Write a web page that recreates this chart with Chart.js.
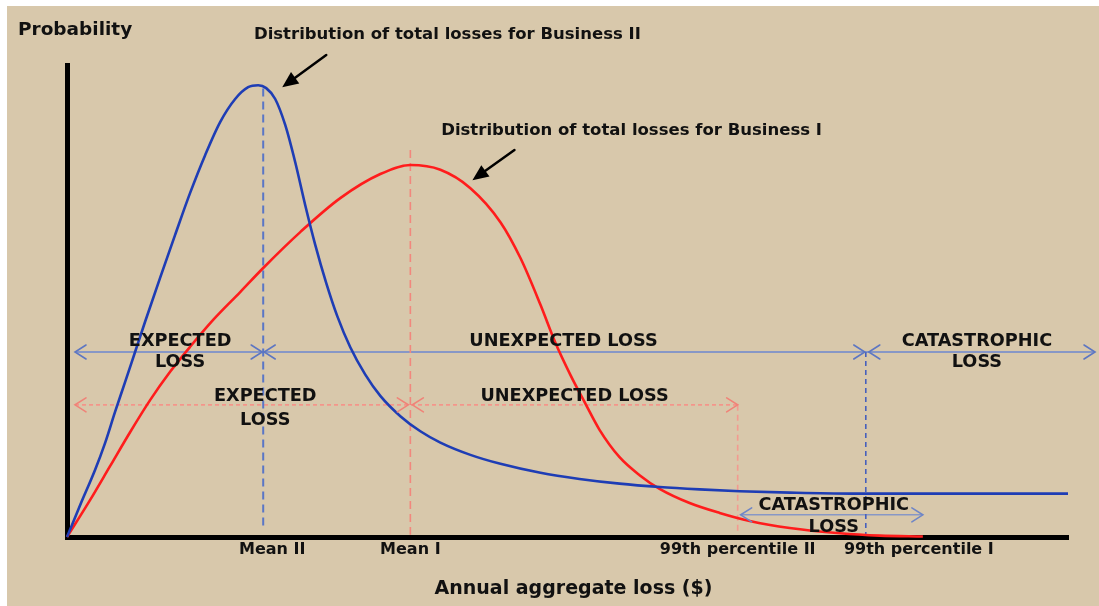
<!DOCTYPE html>
<html><head><meta charset="utf-8">
<script src="https://cdn.jsdelivr.net/npm/chart.js@4.4.1/dist/chart.umd.min.js"></script>
<style>html,body{margin:0;padding:0;background:#fff;}canvas{display:block;}</style>
</head><body>
<canvas id="c" width="1099" height="606"></canvas>
<script>
// ---- data (arbitrary units: annual aggregate loss 0..100, probability 0..100) ----
const lossII = [0.0, 1.4, 2.8, 3.8, 4.8, 5.8, 6.8, 7.8, 9.3, 10.8, 12.3, 13.8, 15.3, 16.8, 18.1, 19.1, 19.9, 20.8, 21.8, 22.8, 23.8, 24.8, 25.9, 27.0, 28.3, 29.8, 31.3, 33.3, 35.3, 37.3, 40.3, 43.3, 47.3, 51.2, 55.2, 59.2, 63.2, 67.2, 72.2, 78.2, 100.0];
const probII = [0.0, 7.2, 14.2, 19.9, 26.5, 32.8, 39.2, 45.6, 54.9, 64.0, 72.9, 80.9, 87.9, 92.8, 95.3, 95.7, 95.1, 92.8, 87.3, 79.4, 70.3, 61.9, 53.8, 46.8, 40.2, 34.4, 29.9, 25.6, 22.4, 20.0, 17.4, 15.5, 13.6, 12.3, 11.3, 10.6, 10.1, 9.7, 9.4, 9.2, 9.2];
const lossI = [0.0, 2.3, 4.3, 6.3, 8.3, 10.3, 12.3, 14.6, 17.3, 19.6, 23.3, 27.3, 31.3, 34.3, 37.3, 40.3, 43.3, 45.3, 47.3, 48.8, 50.3, 51.8, 53.2, 55.2, 57.2, 59.2, 62.2, 65.2, 68.2, 72.2, 77.2, 81.2, 85.5];
const probI = [0.0, 7.8, 15.0, 22.2, 29.0, 35.0, 40.3, 46.0, 51.9, 57.0, 64.6, 71.8, 76.9, 78.8, 77.8, 73.9, 66.7, 59.1, 49.2, 41.1, 34.3, 28.2, 22.7, 16.9, 13.1, 10.2, 7.2, 5.1, 3.4, 1.9, 0.8, 0.3, 0.1];
const markerNames = ['Mean II', 'Mean I', '99th percentile II', '99th percentile I'];
const markerValues = [19.6, 34.3, 67.0, 79.8];
const tickLabelValues = [20.5, 34.3, 67.0, 85.1];
const lossBandLevels = [39.2, 28.0, 4.7]; // Business II bands, Business I bands, catastrophic band
// -------------------------------------------------------------------------------

const FONT = '"DejaVu Sans", Verdana, sans-serif';
const pts = (xs, ys) => xs.map((x, i) => ({x, y: ys[i]}));
const seg = (x1, y1, x2, y2) => [{x: x1, y: y1}, {x: x2, y: y2}];

const [meanII, meanI, p99II, p99I] = markerValues;
const [bandII, bandI, bandCat] = lossBandLevels;

const bgPlugin = {
  id: 'bg',
  beforeDraw(chart) {
    const c = chart.ctx;
    c.save();
    c.fillStyle = '#ffffff';
    c.fillRect(0, 0, chart.width, chart.height);
    c.fillStyle = '#d8c8ab';
    c.fillRect(7, 6, chart.width - 7, chart.height - 6);
    c.restore();
  }
};

const heads = [
  {x: 0.8, y: bandII, d: -1, c: '#5d76c2'}, {x: meanII - 0.1, y: bandII, d: 1, c: '#5d76c2'},
  {x: meanII + 0.1, y: bandII, d: -1, c: '#5d76c2'}, {x: p99I - 0.1, y: bandII, d: 1, c: '#5d76c2'},
  {x: p99I + 0.3, y: bandII, d: -1, c: '#5d76c2'}, {x: 102.7, y: bandII, d: 1, c: '#5d76c2'},
  {x: 0.8, y: bandI, d: -1, c: '#f08378'}, {x: meanI - 0.2, y: bandI, d: 1, c: '#f08378'},
  {x: meanI + 0.2, y: bandI, d: -1, c: '#f08378'}, {x: p99II, y: bandI, d: 1, c: '#f08378'},
  {x: p99II + 0.3, y: bandCat, d: -1, c: '#6f86c6'}, {x: 85.5, y: bandCat, d: 1, c: '#6f86c6'}
];
const pointers = [
  {x1: 25.9, y1: 102.1, x2: 21.5, y2: 95.3},
  {x1: 44.7, y1: 82.0, x2: 40.5, y2: 75.6}
];
const CAPS = 'bold 17.7px ' + FONT;
const texts = [
  {t: 'Probability', x: -4.9, y: 107.4, a: 'left', f: 'bold 18.5px ' + FONT},
  {t: 'Distribution of total losses for Business II', x: 38.0, y: 106.4, a: 'center', f: 'bold 16.5px ' + FONT},
  {t: 'Distribution of total losses for Business I', x: 56.4, y: 86.0, a: 'center', f: 'bold 16.5px ' + FONT},
  {t: 'EXPECTED', x: 11.3, y: 41.5, a: 'center', f: CAPS},
  {t: 'LOSS', x: 11.3, y: 36.9, a: 'center', f: CAPS},
  {t: 'UNEXPECTED LOSS', x: 49.6, y: 41.5, a: 'center', f: CAPS},
  {t: 'CATASTROPHIC', x: 90.9, y: 41.5, a: 'center', f: CAPS},
  {t: 'LOSS', x: 90.9, y: 36.9, a: 'center', f: CAPS},
  {t: 'EXPECTED', x: 19.8, y: 29.7, a: 'center', f: CAPS},
  {t: 'LOSS', x: 19.8, y: 24.8, a: 'center', f: CAPS},
  {t: 'UNEXPECTED LOSS', x: 50.7, y: 29.7, a: 'center', f: CAPS},
  {t: 'CATASTROPHIC', x: 76.6, y: 6.8, a: 'center', f: CAPS},
  {t: 'LOSS', x: 76.6, y: 2.1, a: 'center', f: CAPS},
  {t: 'Annual aggregate loss ($)', x: 50.6, y: -11.0, a: 'center', f: 'bold 19px ' + FONT}
];

const annotPlugin = {
  id: 'annot',
  afterDatasetsDraw(chart) {
    const c = chart.ctx, xs = chart.scales.x, ys = chart.scales.y;
    c.save();
    c.lineCap = 'round';
    heads.forEach(h => {
      const px = xs.getPixelForValue(h.x), py = ys.getPixelForValue(h.y);
      c.strokeStyle = h.c; c.lineWidth = 1.6;
      c.beginPath();
      c.moveTo(px - h.d * 11, py - 7);
      c.lineTo(px, py);
      c.lineTo(px - h.d * 11, py + 7);
      c.stroke();
    });
    pointers.forEach(p => {
      const x1 = xs.getPixelForValue(p.x1), y1 = ys.getPixelForValue(p.y1);
      const x2 = xs.getPixelForValue(p.x2), y2 = ys.getPixelForValue(p.y2);
      const ang = Math.atan2(y2 - y1, x2 - x1), L = 16, W = 7;
      const bx = x2 - L * Math.cos(ang), by = y2 - L * Math.sin(ang);
      c.strokeStyle = '#000'; c.lineWidth = 2.5;
      c.beginPath(); c.moveTo(x1, y1); c.lineTo(bx, by); c.stroke();
      c.fillStyle = '#000';
      c.beginPath();
      c.moveTo(x2, y2);
      c.lineTo(bx + W * Math.sin(ang), by - W * Math.cos(ang));
      c.lineTo(bx - W * Math.sin(ang), by + W * Math.cos(ang));
      c.closePath(); c.fill();
    });
    c.restore();
  },
  afterDraw(chart) {
    const c = chart.ctx, xs = chart.scales.x, ys = chart.scales.y;
    c.save();
    c.fillStyle = '#111';
    c.textBaseline = 'middle';
    texts.forEach(t => {
      c.font = t.f; c.textAlign = t.a;
      c.fillText(t.t, xs.getPixelForValue(t.x), ys.getPixelForValue(t.y));
    });
    c.restore();
  }
};

const lineDs = (data, color, width, dash, extra) => Object.assign({
  data, borderColor: color, borderWidth: width, borderDash: dash || [],
  pointRadius: 0, fill: false, clip: false, tension: 0
}, extra || {});

new Chart(document.getElementById('c'), {
  type: 'line',
  data: {
    datasets: [
      lineDs(pts(lossII, probII), '#1e3db5', 2.6, null, {cubicInterpolationMode: 'monotone'}),
      lineDs(pts(lossI, probI), '#ff1c1c', 2.6, null, {cubicInterpolationMode: 'monotone'}),
      lineDs(seg(meanII, 95.0, meanII, 1.5), '#5a76c6', 2, [8, 5]),
      lineDs(seg(meanI, 82.0, meanI, 0.5), '#f2877d', 1.6, [8, 5]),
      lineDs(seg(p99II, bandI, p99II, 0.5), '#f39a90', 1.6, [6, 4]),
      lineDs(seg(p99I, bandII, p99I, 0.5), '#4660bd', 1.6, [5, 4]),
      lineDs(seg(0.8, bandII, 102.7, bandII), '#8797c6', 2),
      lineDs(seg(0.8, bandI, p99II, bandI), '#f4958b', 1.6, [4, 3]),
      lineDs(seg(p99II + 0.3, bandCat, 85.5, bandCat), '#8797c6', 1.6)
    ]
  },
  options: {
    responsive: false,
    animation: false,
    events: [],
    layout: {padding: {left: 67, right: 31, top: 65, bottom: 0}},
    scales: {
      x: {
        type: 'linear', min: 0, max: 100,
        grid: {display: false, drawTicks: false},
        border: {display: true, color: '#000', width: 5},
        afterBuildTicks: s => { s.ticks = tickLabelValues.map(v => ({value: v})); },
        afterFit: s => { s.height = 69; },
        ticks: {
          autoSkip: false, maxRotation: 0, padding: 3, color: '#111',
          font: {family: FONT, size: 16, weight: 'bold'},
          callback: (v, i) => markerNames[i]
        }
      },
      y: {
        type: 'linear', min: 0, max: 100,
        grid: {display: false, drawTicks: false},
        border: {display: true, color: '#000', width: 5},
        ticks: {display: false},
        afterFit: s => { s.width = 0; }
      }
    },
    plugins: {legend: {display: false}, tooltip: {enabled: false}, title: {display: false}}
  },
  plugins: [bgPlugin, annotPlugin]
});
</script>
</body></html>
